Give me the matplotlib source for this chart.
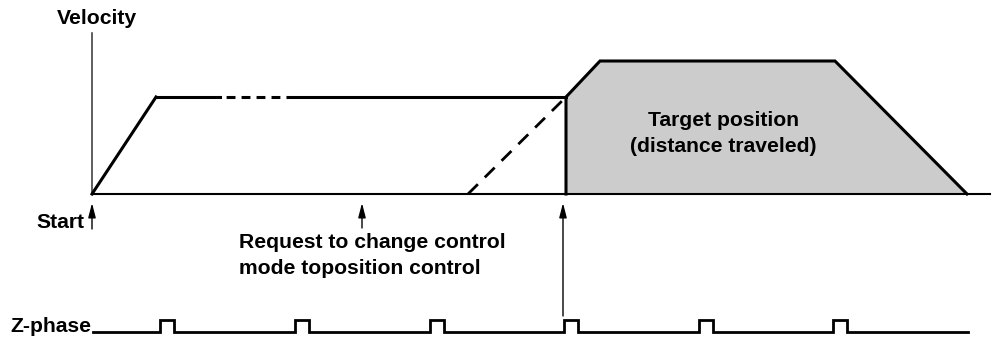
import matplotlib.pyplot as plt
from matplotlib.patches import Polygon

plt.rcParams['font.family'] = ['Liberation Sans', 'DejaVu Sans']

# velocity profile (x along time, y in pixel rows, baseline = 194)
base_y = 194
accel_x = [92, 156]
accel_y = [194, 97]
plateau_solid1 = [156, 220]
plateau_dash = [220, 288]
plateau_solid2 = [288, 566]
plateau_y = 97
ghost_ramp_x = [468, 566]          # dashed "would-have-been" ramp
ghost_ramp_y = [194, 97]
target_x = [566, 566, 600, 835, 967]
target_y = [194, 97, 61, 61, 194]

# z-phase pulses
z_pulses = [160, 295, 430, 564, 699, 833]
z_width = 14
z_low, z_high = 332, 320
z_start, z_end = 93, 968

# arrows: (x, tip_y, tail_y)
arrows = [(92, 203, 229), (362, 203, 228), (563, 203, 316)]

fig = plt.figure(figsize=(9.92, 3.38), dpi=100)
ax = fig.add_axes([0, 0, 1, 1])
ax.set_xlim(0, 992)
ax.set_ylim(338, 0)
ax.axis('off')

# axes of the diagram
ax.plot([92, 92], [33, base_y], color='#333333', lw=1.1)
ax.plot([92, 990], [base_y, base_y], color='black', lw=1.5)

# shaded target area
ax.add_patch(Polygon(list(zip(target_x, target_y)), closed=True,
                     facecolor='#cccccc', edgecolor='none', zorder=1))
ax.plot(target_x, target_y, color='black', lw=2.2, zorder=3,
        solid_joinstyle='miter')

ax.plot(accel_x, accel_y, color='black', lw=2.2, solid_joinstyle='miter')
ax.plot(plateau_solid1, [plateau_y] * 2, color='black', lw=2.2)
ax.plot(plateau_dash, [plateau_y] * 2, color='black', lw=2.2,
        linestyle=(2.9, (2.9, 2.0)), dash_capstyle='butt')
ax.plot(plateau_solid2, [plateau_y] * 2, color='black', lw=2.2)
ax.plot(ghost_ramp_x, ghost_ramp_y, color='black', lw=2.0,
        linestyle=(0, (5, 3.5)))

# z-phase signal
zx = [z_start]
zy = [z_low]
for p in z_pulses:
    zx += [p, p, p + z_width, p + z_width]
    zy += [z_low, z_high, z_high, z_low]
zx.append(z_end)
zy.append(z_low)
ax.plot(zx, zy, color='black', lw=2.0, solid_joinstyle='miter')

for x, tip, tail in arrows:
    ax.annotate('', xy=(x, tip), xytext=(x, tail),
                arrowprops=dict(arrowstyle='-|>,head_length=0.62,head_width=0.16',
                                color='black', lw=1.0, mutation_scale=14,
                                shrinkA=0, shrinkB=0))

fs = 15.2
ax.text(57, 18, 'Velocity', fontsize=fs, fontweight='bold', va='center', ha='left')
ax.text(84, 222, 'Start', fontsize=fs, fontweight='bold', va='center', ha='right')
ax.text(239, 242, 'Request to change control', fontsize=fs, fontweight='bold',
        va='center', ha='left')
ax.text(239, 269, 'mode toposition control', fontsize=fs, fontweight='bold',
        va='center', ha='left')
ax.text(723, 120, 'Target position', fontsize=fs, fontweight='bold',
        va='center', ha='center')
ax.text(723, 147, '(distance traveled)', fontsize=fs, fontweight='bold',
        va='center', ha='center')
ax.text(91, 326, 'Z-phase', fontsize=fs, fontweight='bold', va='center', ha='right')

fig.savefig('out.png', dpi=100)
